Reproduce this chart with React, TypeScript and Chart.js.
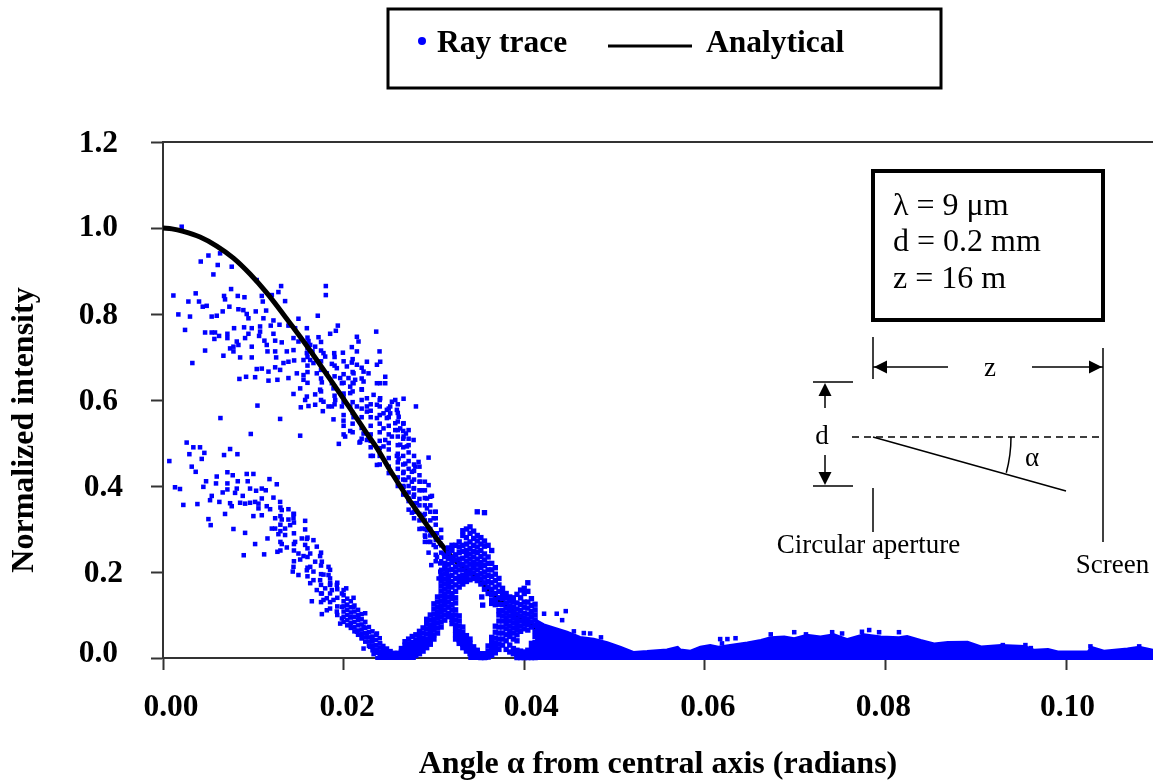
import React, { useEffect, useRef } from "react";
import { Chart, registerables } from "chart.js";

Chart.register(...registerables);

const FONT = "'Liberation Serif', 'Times New Roman', serif";
const BLUE = "#0000ff";
const AXIS = "#333333";

// all readings: [angle in milliradians, intensity in thousandths]
const analytical: number[][] = [
  [0, 1000], [1, 998], [2.25, 992], [4.1, 979], [5.95, 958], [7.8, 930], [9.64, 893], [11.49, 849], [13.34, 799], [15.19, 747],
  [17.03, 693], [18.88, 637], [20.73, 580], [22.58, 522], [23.69, 488], [25.16, 436], [27, 376], [29.23, 309], [30.3, 278],
  [31.45, 248], [32, 234], [35, 181], [38.5, 111], [41, 75], [44, 40], [47, 20], [50, 8], [55, 0], [60, 3], [66, 12], [72, 17],
  [78, 15], [85, 8], [92, 2], [98, 0], [105, 1],
];

const upperLobe: number[][] = [
  [2.07, 1003], [5.03, 936], [4.18, 922], [6.32, 941], [6.06, 914], [7.61, 910], [5.58, 892], [10.38, 879], [13.08, 865], [18.03, 865],
  [18.03, 844], [1.15, 843], [3.62, 848], [2.81, 829], [3.99, 829], [4.4, 817], [4.84, 819], [7.54, 858], [6.76, 842], [6.87, 834],
  [8.28, 842], [9.02, 839], [10.94, 842], [12.05, 844], [12.78, 851], [11.05, 829], [13.52, 830], [7.35, 817], [6.61, 806], [8.35, 811],
  [8.9, 809], [9.27, 800], [9.46, 790], [10.27, 806], [11.42, 808], [1.7, 799], [2.99, 794], [5.39, 794], [5.95, 796], [11.12, 790],
  [12.23, 785], [15.0, 789], [17.14, 796], [2.44, 763], [4.66, 757], [5.39, 757], [5.76, 757], [6.21, 749], [5.69, 742], [7.13, 754],
  [7.13, 744], [7.87, 767], [8.98, 769], [9.83, 767], [10.75, 771], [10.75, 759], [11.93, 773], [12.9, 775], [13.89, 773], [14.63, 767],
  [15.93, 767], [19.36, 773], [19.14, 761], [18.51, 754], [23.61, 759], [21.47, 747], [21.65, 736], [17.22, 746], [16.11, 737], [12.23, 754],
  [10.64, 749], [9.46, 754], [9.09, 744], [8.17, 736], [8.35, 728], [7.8, 724], [7.43, 720], [7.8, 713], [9.83, 724], [11.23, 738],
  [11.49, 728], [11.57, 713], [12.42, 738], [13.15, 734], [14.45, 744], [15.0, 736], [16.3, 728], [16.85, 724], [4.66, 715], [6.69, 703],
  [8.54, 699], [9.83, 699], [12.42, 713], [12.53, 699], [13.71, 713], [14.45, 716], [15.93, 709], [16.55, 713], [17.77, 709], [17.96, 701],
  [18.96, 709], [19.92, 710], [20.91, 723], [21.47, 713], [23.98, 713], [3.25, 686], [10.38, 672], [10.94, 673], [11.68, 666], [12.42, 676],
  [12.97, 670], [13.34, 686], [13.89, 689], [14.52, 692], [15.56, 693], [16.3, 693], [16.66, 686], [18.7, 684], [19.25, 674], [20.36, 678],
  [20.91, 687], [21.47, 682], [22.58, 689], [24.05, 689], [23.69, 682], [21.1, 662], [22.21, 666], [22.76, 662], [8.46, 649], [9.2, 654],
  [10.2, 653], [11.68, 645], [12.67, 647], [13.89, 651], [14.82, 662], [15.56, 658], [15.56, 647], [17.03, 662], [18.14, 662], [19.62, 651],
  [20.54, 651], [21.28, 647], [24.61, 654], [24.05, 639], [24.61, 639], [23.69, 639], [17.59, 641], [18.7, 639], [19.81, 639], [21.1, 639],
  [22.21, 643], [14.45, 614], [15.19, 627], [15.93, 608], [16.85, 613], [17.4, 624], [18.88, 627], [20.73, 631], [22.02, 624], [23.32, 612],
  [15.74, 600], [17.77, 596], [19.07, 600], [19.99, 608], [20.73, 616], [22.58, 604], [24.05, 604], [25.35, 596], [26.64, 603], [28.01, 585],
  [10.46, 587], [15.26, 583], [16.11, 586], [16.85, 589], [17.7, 574], [18.33, 585], [18.7, 585], [19.81, 585], [20.73, 585], [21.47, 585],
  [22.58, 585], [23.69, 589], [24.79, 577], [25.9, 577], [25.16, 569], [6.36, 558], [12.97, 556], [18.88, 555], [19.99, 552], [21.1, 560],
  [22.58, 573], [23.69, 558], [24.79, 558], [24.42, 534], [25.72, 546], [26.64, 546], [27.2, 530], [25.72, 530], [9.72, 521], [15.19, 517],
  [20.73, 528], [20.17, 515], [21.84, 503], [22.76, 515], [22.58, 507], [27.75, 507], [26.64, 515], [25.35, 515], [24.61, 507], [19.47, 498],
  [24.42, 492], [26.27, 496], [27.01, 492], [26.1, 561], [25.16, 585], [24.42, 569], [25.72, 600], [26.27, 534], [26.9, 522],
  [21.76, 501], [22.21, 522], [23.24, 470], [23.69, 449], [25.9, 470], [26.09, 464], [26.83, 452], [29.41, 466], [28.3, 456], [27.94, 445],
  [27.56, 433], [26.64, 433], [25.16, 433], [26.83, 414], [27.56, 410], [28.49, 410], [29.41, 402], [27.75, 394], [28.67, 390], [26.64, 398],
  [29.78, 377], [29.23, 371], [27.75, 375], [27.2, 371], [28.12, 360], [29.23, 348], [30.15, 340], [27.56, 338], [28.86, 332], [29.97, 325],
  [28.67, 301], [29.23, 297], [29.04, 282], [29.78, 290], [30.34, 290], [29.41, 270], [29.97, 263], [30.7, 266], [29.41, 245], [31.08, 243],
  [31.63, 232], [30.34, 235], [29.71, 216], [30.7, 220], [31.26, 216], [30.7, 201], [31.44, 197], [30.52, 185], [31.26, 173],
];

const upperColumns: [number, number[]][] = [
  [16, [640, 665, 680, 700, 720, 745]],
  [17.5, [600, 620, 650, 670, 690, 715, 735]],
  [19, [590, 610, 630, 655, 680, 700]],
  [20, [520, 540, 565, 595, 615, 640, 660, 690]],
  [21, [525, 545, 570, 595, 620, 640, 665, 695]],
  [22, [510, 535, 560, 580, 600, 625, 650, 675]],
  [23, [470, 490, 505, 520, 540, 560, 575, 590]],
  [24, [450, 470, 488, 505, 525, 545, 565, 585, 600]],
  [25, [430, 445, 465, 485, 500, 520, 540, 560, 580]],
  [26, [400, 420, 440, 455, 475, 495, 515, 530, 550, 570, 590]],
  [26.6, [380, 400, 415, 430, 450, 470, 490, 510, 528, 545]],
  [27.2, [345, 365, 385, 400, 420, 440, 458, 478, 495, 510]],
  [27.8, [325, 340, 360, 380, 395, 415, 435, 450, 470]],
  [28.4, [300, 320, 335, 355, 370, 390, 410, 425, 445]],
  [29.0, [270, 285, 300, 320, 335, 355, 372, 390, 410]],
  [29.6, [270, 285, 300, 320, 340, 355, 375]],
  [30.2, [225, 240, 258, 275, 290, 310, 325, 340]],
  [30.8, [205, 225, 245, 262, 280, 298]],
];

const lowerLobe: number[][] = [
  [2.62, 501], [3.36, 490], [4.1, 490], [2.92, 474], [4.58, 477], [4.29, 463], [7.43, 486], [6.76, 472], [8.24, 474], [0.7, 458],
  [3.18, 445], [3.62, 433], [7.13, 432], [7.72, 425], [9.27, 428], [10.01, 428], [5.95, 422], [4.77, 411], [4.47, 398], [5.87, 406],
  [7.13, 406], [8.28, 411], [9.38, 411], [11.79, 416], [12.6, 404], [1.33, 397], [1.88, 393], [7.13, 392], [8.17, 394], [9.64, 394],
  [10.31, 389], [10.94, 394], [11.38, 390], [6.61, 385], [5.4, 377], [7.98, 384], [8.83, 377], [5.21, 367], [6.24, 363], [10.94, 371],
  [12.23, 373], [12.97, 363], [2.25, 356], [3.81, 358], [7.43, 360], [8.54, 361], [9.09, 359], [9.64, 361], [10.2, 363], [10.57, 359],
  [6.87, 335], [7.61, 353], [10.57, 348], [11.49, 353], [11.86, 346], [10.01, 330], [10.94, 332], [13.15, 344], [13.89, 346], [14.45, 335],
  [5.03, 323], [5.28, 309], [7.8, 300], [9.09, 291], [12.42, 325], [13.15, 322], [13.89, 322], [14.45, 325], [15.74, 319], [12.05, 301],
  [12.42, 301], [13.52, 301], [14.08, 309], [15.74, 299], [12.78, 288], [13.52, 286], [11.57, 278], [10.2, 265], [15.37, 278], [15.93, 277],
  [16.66, 274], [14.63, 270], [13.15, 265], [13.71, 257], [17.03, 259], [15.74, 263], [8.94, 239], [11.2, 241], [12.67, 247], [15.0, 243],
  [15.56, 237], [16.3, 243], [17.4, 237], [15.19, 229], [17.59, 224], [16.85, 224], [18.33, 212], [14.45, 212], [14.37, 201], [15, 193],
  [15.93, 204], [16.66, 201], [16.3, 212], [17.77, 194], [18.33, 193], [16.66, 181], [17.4, 181], [16.3, 174], [18.51, 174], [19.25, 170],
  [20.29, 162], [17.96, 162], [18.7, 158], [17.03, 158], [17.59, 150], [19.81, 150], [21.1, 140], [18.14, 139], [16.48, 132], [17.77, 135],
  [18.88, 135], [20.36, 123], [19.81, 119], [21.1, 119], [17.59, 102], [18.14, 111], [19.25, 108], [22.39, 104], [20.73, 96], [19.81, 92],
  [21.65, 92], [19.62, 80], [20.73, 77], [22.21, 73], [21.47, 61], [22.58, 57], [23.69, 57], [22.02, 46], [23.13, 42], [24.05, 34],
  [22.21, 22], [22.95, 26], [23.69, 18], [24.42, 15], [25.16, 11], [23.32, 9], [24.05, 3], [24.79, 3], [25.72, 3], [26.64, 5],
];

const lowerColumns: [number, number[]][] = [
  [13, [250, 270, 295, 310, 330, 350]],
  [14.5, [225, 250, 265, 290, 315, 335]],
  [16, [190, 210, 235, 255, 280]],
  [17.5, [130, 150, 170, 195, 215, 245]],
  [18.5, [115, 130, 150, 170, 185, 205]],
  [19.3, [100, 120, 140, 160, 175]],
  [20, [84, 96, 108, 120, 132, 146, 158]],
  [20.4, [76, 88, 100, 112, 124, 138]],
  [20.8, [70, 82, 94, 106, 118, 132]],
  [21.2, [62, 72, 84, 96, 108, 122]],
  [21.6, [54, 64, 76, 88, 100, 112]],
  [22, [46, 56, 66, 78, 90, 102]],
  [22.4, [38, 48, 58, 70, 84]],
  [22.8, [28, 38, 48, 60, 72]],
  [23.2, [18, 28, 38, 50, 62]],
  [23.6, [12, 20, 30, 42, 54]],
  [24, [6, 14, 24, 34, 46]],
  [24.4, [3, 10, 18, 28]],
  [24.8, [2, 8, 14, 22]],
  [25.2, [1, 5, 10, 16]],
  [25.6, [1, 4, 8, 12]],
  [26, [1, 4, 8, 12]],
];

// columns of the dense arches around the second and third maxima: [angle, [intensities]]
const peakColumns: [number, number[]][] = [
  [26.4, [3, 8, 14, 22]],
  [26.8, [2, 7, 13, 20, 30, 38]],
  [27.2, [3, 9, 16, 24, 33, 44]],
  [27.6, [4, 10, 18, 28, 36, 50]],
  [28.0, [6, 14, 22, 32, 42, 54]],
  [28.4, [10, 18, 28, 38, 50, 62]],
  [28.8, [16, 26, 36, 46, 58, 70]],
  [29.2, [24, 34, 44, 56, 68, 80, 90]],
  [29.6, [32, 42, 52, 64, 76, 88, 100]],
  [30.0, [44, 54, 66, 78, 90, 102, 114, 126]],
  [30.4, [58, 70, 82, 94, 106, 118, 130, 142]],
  [30.8, [72, 84, 96, 108, 120, 132, 144, 156, 168, 180, 192]],
  [31.2, [88, 100, 112, 124, 136, 148, 160, 172, 184, 196, 208, 220, 236]],
  [31.6, [96, 104, 118, 130, 142, 154, 166, 178, 190, 205, 218, 232, 244, 256]],
  [32.0, [80, 90, 100, 112, 124, 138, 150, 165, 178, 192, 206, 222, 234, 250, 262]],
  [32.4, [44, 54, 64, 76, 88, 100, 112, 128, 140, 155, 170, 185, 200, 212, 228, 240, 262]],
  [32.8, [34, 42, 52, 62, 74, 86, 98, 165, 178, 190, 205, 218, 230, 245, 258, 270]],
  [33.2, [24, 32, 40, 50, 60, 72, 172, 180, 192, 205, 218, 232, 248, 262, 285, 296]],
  [33.6, [16, 24, 32, 42, 52, 178, 190, 200, 212, 225, 238, 250, 265, 280, 300]],
  [34.0, [10, 18, 26, 34, 44, 182, 195, 205, 218, 230, 242, 255, 270, 290, 305]],
  [34.4, [4, 10, 18, 26, 185, 198, 210, 222, 235, 248, 262, 278, 295]],
  [34.8, [2, 6, 12, 18, 180, 192, 205, 218, 230, 245, 258, 272, 285, 340]],
  [35.2, [1, 5, 10, 172, 184, 196, 210, 222, 236, 250, 265, 280]],
  [35.6, [1, 5, 10, 160, 175, 188, 200, 215, 228, 242, 260, 272, 338]],
  [36.0, [2, 8, 16, 28, 150, 165, 178, 192, 205, 220, 235, 262]],
  [36.4, [6, 14, 24, 36, 48, 135, 148, 160, 175, 190, 205, 220, 250]],
  [36.8, [12, 22, 34, 46, 60, 74, 124, 136, 150, 165, 180, 195, 210]],
  [37.2, [20, 32, 44, 58, 72, 86, 100, 110, 125, 140, 155, 170, 185]],
  [37.6, [30, 44, 58, 72, 86, 98, 110, 124, 138, 150, 162]],
  [38.0, [20, 40, 54, 68, 80, 92, 104, 116, 128, 140, 150]],
  [38.4, [14, 30, 50, 62, 74, 86, 98, 110, 120, 132, 142]],
  [38.8, [10, 22, 44, 58, 70, 82, 94, 106, 118, 130, 140]],
  [39.2, [1, 5, 10, 18, 40, 54, 66, 78, 90, 102, 114, 128, 148]],
  [39.6, [1, 5, 10, 16, 62, 74, 86, 98, 110, 124, 140, 158]],
  [40.0, [1, 5, 10, 14, 68, 80, 92, 104, 118, 130, 150, 162]],
  [40.4, [1, 5, 10, 18, 65, 78, 90, 102, 116, 130, 155, 175]],
  [40.8, [1, 5, 12, 22, 34, 72, 84, 96, 108, 122, 138]],
  [41.2, [1, 6, 14, 24, 36, 50, 62, 76, 88, 100, 112, 125]],
];

const peakStrays: number[][] = [[35.3, 142], [35.4, 123], [36.4, 127]];

// upper edge of the solid band along the axis
const tailEdge: number[][] = [
  [41.2, 90], [42.2, 78], [43.6, 69], [44.75, 61], [46.2, 49], [47.7, 45], [49.2, 37], [50.7, 26], [52.1, 14], [53.6, 16], [55.8, 20], [57, 26],
  [57.3, 20], [58.4, 17], [59.5, 26], [60.6, 30], [61.5, 26], [62.8, 30], [64.7, 36], [66.2, 42], [67.3, 48], [68.8, 50], [69.9, 46],
  [71.3, 54], [72.8, 50], [74.3, 55], [75.8, 44], [77.6, 55], [79.5, 50], [81.5, 48], [82.4, 51], [83.9, 42], [85.4, 34], [86.9, 37],
  [89.1, 38], [90.6, 27], [92.8, 30], [95.4, 28], [96.5, 19], [98, 21], [99.1, 15], [102.4, 15], [102.8, 26], [104.2, 17], [106.8, 22],
  [108.1, 26], [109.63, 19],
];

const floorValley1: number[][] = [[23.5, 0], [28, 0]];
const floorValley2: number[][] = [[33.8, 0], [36, 0]];
const floorTail: number[][] = [[39, 0], [109.63, 0]];

const tailSpikes: number[][] = [
  [42.2, 103], [43.6, 103], [44.6, 109], [44.2, 88], [47.3, 57], [45.5, 62], [46.6, 58], [48.5, 48], [61.7, 44], [62.5, 44], [63.4, 46], [61.9, 34],
  [67.3, 55], [69.9, 60], [71.2, 55], [74.1, 60], [75.2, 57], [77.4, 61], [78.2, 65], [79.3, 60], [81.5, 60], [93, 30], [95.5, 30], [96.1, 23],
  [102.7, 27], [108.1, 27],
];

const xMax = 0.10963;
const xTicksStep = 0.02;
const yTicksStep = 0.2;

const toPoints = (rows: number[][]) => rows.map(([x, y]) => ({ x: x / 1000, y: y / 1000 }));
const columnPoints = (cols: [number, number[]][]) =>
  cols.flatMap(([x, ys]) => ys.map((y) => ({ x: x / 1000, y: y / 1000 })));

const labelShift: Record<string, [number, number]> = {
  "1.2": [0, 2], "1.0": [0, 0], "0.8": [0, 2], "0.6": [0, 2], "0.4": [5, 2], "0.2": [5, 2], "0.0": [0, -4],
  "0.00": [8, 0], "0.02": [3.5, 0], "0.04": [7, 0], "0.06": [3, 0], "0.08": [-2, 0], "0.10": [1.5, 0],
};

const scatterStyle = {
  showLine: false,
  pointStyle: "rect" as const,
  pointRadius: 3.2,
  pointBackgroundColor: BLUE,
  pointBorderWidth: 0,
  clip: false as const,
};

const floorStyle = {
  showLine: true,
  borderColor: BLUE,
  borderWidth: 4,
  pointRadius: 0,
  clip: false as const,
};

function arrow(ctx: CanvasRenderingContext2D, x: number, y: number, dx: number, dy: number) {
  const len = 13;
  const half = 6.5;
  ctx.beginPath();
  ctx.moveTo(x, y);
  ctx.lineTo(x - dx * len - dy * half, y - dy * len - dx * half);
  ctx.lineTo(x - dx * len + dy * half, y - dy * len + dx * half);
  ctx.closePath();
  ctx.fill();
}

function seg(ctx: CanvasRenderingContext2D, x1: number, y1: number, x2: number, y2: number) {
  ctx.beginPath();
  ctx.moveTo(x1, y1);
  ctx.lineTo(x2, y2);
  ctx.stroke();
}

const tickNudge = {
  id: "tickNudge",
  beforeDraw(chart: any) {
    for (const scale of [chart.scales.x, chart.scales.y]) {
      for (const item of scale.getLabelItems()) {
        const s = labelShift[String(item.label)];
        if (s) {
          const t = item.options.translation;
          item.options.translation = [t[0] + s[0], t[1] + s[1]];
        }
      }
    }
  },
};

const annotations = {
  id: "annotations",
  afterDraw(chart: any) {
    const ctx: CanvasRenderingContext2D = chart.ctx;
    ctx.save();
    ctx.fillStyle = "#000";
    ctx.strokeStyle = "#000";
    ctx.textBaseline = "alphabetic";

    // y axis title
    ctx.save();
    ctx.translate(33, 430);
    ctx.rotate(-Math.PI / 2);
    ctx.textAlign = "center";
    ctx.font = `bold 32px ${FONT}`;
    ctx.fillText("Normalized intensity", 0, 0);
    ctx.restore();

    // legend box
    ctx.lineWidth = 3;
    ctx.strokeRect(388, 9, 553, 79);
    ctx.fillStyle = BLUE;
    ctx.beginPath();
    ctx.arc(422, 41, 4, 0, Math.PI * 2);
    ctx.fill();
    ctx.fillStyle = "#000";
    ctx.font = `bold 31.5px ${FONT}`;
    ctx.textAlign = "left";
    ctx.fillText("Ray trace", 437, 52);
    ctx.fillText("Analytical", 706, 52);
    ctx.lineWidth = 3;
    seg(ctx, 608, 46, 692, 46);

    // parameter box
    ctx.fillStyle = "#fff";
    ctx.fillRect(873, 170, 230, 150);
    ctx.fillStyle = "#000";
    ctx.lineWidth = 4;
    ctx.strokeRect(873, 171, 230, 149);
    ctx.font = `32px ${FONT}`;
    ctx.fillText("λ = 9 μm", 893, 215);
    ctx.fillText("d = 0.2 mm", 893, 251);
    ctx.fillText("z = 16 m", 893, 288);

    // aperture diagram
    ctx.lineWidth = 1.5;
    seg(ctx, 873, 337, 873, 379);
    seg(ctx, 873, 488, 873, 532);
    seg(ctx, 1103, 348, 1103, 542);
    seg(ctx, 873, 367, 948, 367);
    seg(ctx, 1032, 367, 1103, 367);
    arrow(ctx, 874, 367, -1, 0);
    arrow(ctx, 1102, 367, 1, 0);
    seg(ctx, 813, 382, 853, 382);
    seg(ctx, 813, 486, 853, 486);
    seg(ctx, 825, 394, 825, 408);
    seg(ctx, 825, 455, 825, 474);
    arrow(ctx, 825, 383, 0, -1);
    arrow(ctx, 825, 485, 0, 1);
    ctx.setLineDash([7, 5]);
    seg(ctx, 852, 437, 1103, 437);
    ctx.setLineDash([]);
    seg(ctx, 873, 437, 1066, 491);
    ctx.beginPath();
    ctx.arc(873, 437, 138, 0, 0.262);
    ctx.stroke();

    ctx.textAlign = "center";
    ctx.font = `27px ${FONT}`;
    ctx.fillText("z", 990, 376);
    ctx.fillText("d", 822, 444);
    ctx.fillText("α", 1032, 466);
    ctx.fillText("Circular aperture", 868.5, 553);
    ctx.fillText("Screen", 1112.5, 573);
    ctx.restore();
  },
};

export default function App() {
  const ref = useRef<HTMLCanvasElement | null>(null);

  useEffect(() => {
    if (!ref.current) return;
    const chart = new Chart(ref.current, {
      type: "scatter",
      data: {
        datasets: [
          { label: "Ray trace (tail)", data: toPoints(tailSpikes), ...scatterStyle, order: 1 },
          {
            label: "Ray trace (band)",
            data: toPoints(tailEdge),
            showLine: true,
            fill: "origin",
            backgroundColor: BLUE,
            borderColor: BLUE,
            borderWidth: 2,
            pointRadius: 0,
            order: 2,
          },
          { label: "Ray trace (floor 1)", data: toPoints(floorValley1), ...floorStyle, order: 3 },
          { label: "Ray trace (floor 2)", data: toPoints(floorValley2), ...floorStyle, order: 3 },
          { label: "Ray trace (floor 3)", data: toPoints(floorTail), ...floorStyle, order: 3 },
          {
            label: "Ray trace (peaks)",
            data: [...columnPoints(peakColumns), ...toPoints(peakStrays)],
            ...scatterStyle,
            pointRadius: 3.8,
            order: 4,
          },
          {
            label: "Analytical",
            data: toPoints(analytical),
            showLine: true,
            borderColor: "#000",
            borderWidth: 5,
            pointRadius: 0,
            cubicInterpolationMode: "monotone",
            order: 5,
          },
          {
            label: "Ray trace",
            data: [...toPoints(upperLobe), ...columnPoints(upperColumns), ...toPoints(lowerLobe), ...columnPoints(lowerColumns)],
            ...scatterStyle,
            order: 6,
          },
        ],
      } as any,
      options: {
        responsive: false,
        animation: false,
        events: [],
        layout: { autoPadding: false, padding: { top: 142, left: 0, right: 0, bottom: 0 } },
        plugins: { legend: { display: false }, tooltip: { enabled: false }, title: { display: false } },
        scales: {
          x: {
            type: "linear",
            min: 0,
            max: xMax,
            afterFit: (s: any) => { s.height = 125; },
            ticks: {
              stepSize: xTicksStep,
              includeBounds: false,
              maxRotation: 0,
              autoSkip: false,
              padding: 19,
              color: "#000",
              font: { family: FONT, size: 31.5, weight: "bold" },
              callback: (v: any) => Number(v).toFixed(2),
            },
            grid: { drawOnChartArea: false, drawTicks: true, tickLength: 12, tickWidth: 2, color: AXIS },
            border: { display: true, color: AXIS, width: 2 },
            title: {
              display: true,
              text: "Angle α from central axis (radians)",
              color: "#000",
              font: { family: FONT, size: 32, weight: "bold" },
              padding: { top: 20, bottom: -1 },
            },
          },
          x2: {
            type: "linear",
            position: "top",
            min: 0,
            max: xMax,
            ticks: { display: false },
            grid: { drawOnChartArea: false, drawTicks: false },
            border: { display: true, color: AXIS, width: 2 },
          },
          y: {
            type: "linear",
            min: 0,
            max: 1.2,
            afterFit: (s: any) => { s.width = 163; },
            ticks: {
              stepSize: yTicksStep,
              padding: 33,
              color: "#000",
              font: { family: FONT, size: 31.5, weight: "bold" },
              callback: (v: any) => Number(v).toFixed(1),
            },
            grid: { drawOnChartArea: false, drawTicks: true, tickLength: 12, tickWidth: 2, color: AXIS },
            border: { display: true, color: AXIS, width: 2 },
          },
        },
      } as any,
      plugins: [tickNudge, annotations] as any,
    });
    return () => chart.destroy();
  }, []);

  return (
    <div style={{ position: "absolute", left: 0, top: 0, width: 1153, height: 783, background: "#fff" }}>
      <canvas ref={ref} width={1153} height={783} style={{ display: "block" }} />
    </div>
  );
}
